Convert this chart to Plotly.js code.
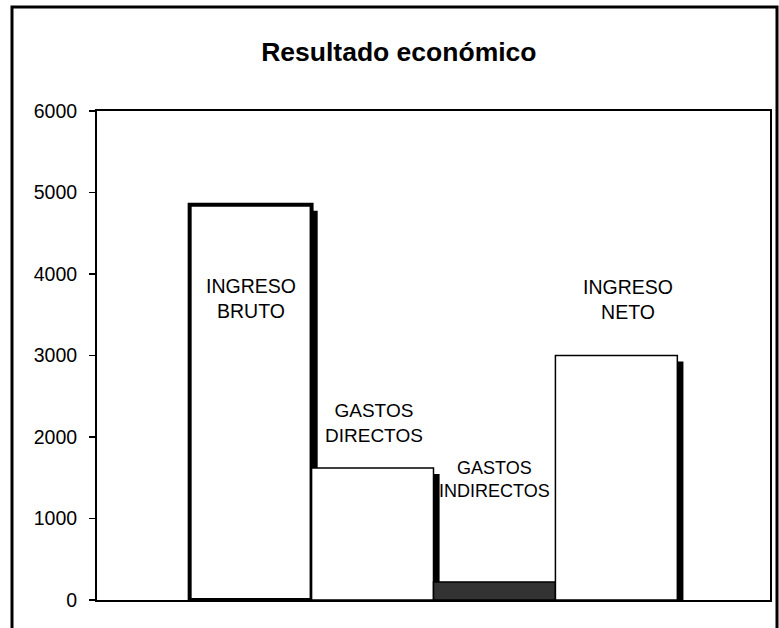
<!DOCTYPE html>
<html>
<head>
<meta charset="utf-8">
<script src="https://cdn.plot.ly/plotly-3.0.1.min.js"></script>
<style>
  html, body { margin: 0; padding: 0; background: #ffffff; }
  #chart { width: 779px; height: 628px; }
</style>
</head>
<body>
<div id="chart"></div>
<script>
// ---- data ----
const categories = ["INGRESO BRUTO", "GASTOS DIRECTOS", "GASTOS INDIRECTOS", "INGRESO NETO"];
const barLabels = ["INGRESO<br>BRUTO", "GASTOS<br>DIRECTOS", "GASTOS<br>INDIRECTOS", "INGRESO<br>NETO"];
const values = [4850, 1620, 220, 3000];
const positions = [0, 1, 2, 3];
const yTicks = [0, 1000, 2000, 3000, 4000, 5000, 6000];

// ---- styling ----
const FONT = "Arial, 'Liberation Sans', sans-serif";
const fillColors = ["#ffffff", "#ffffff", "#333333", "#ffffff"];
const lineWidths = [4, 1.5, 1.5, 1.5];
const shadowDx = 0.05;     // shadow offset in category units (~6px)
const shadowDy = 74;       // shadow drop in axis units (~6px)
const labelY = [3700, 2170, 1480, 3690];
const labelShift = [0, 1, 0, 12];
const labelSize = [19.5, 19, 18, 19.5];

const shadow = {
  type: "bar",
  x: positions,
  y: values,
  base: values.map(() => -shadowDy),
  width: 1,
  offset: -0.5 + shadowDx,
  marker: { color: "#000000", line: { width: 0 } },
  hoverinfo: "skip",
  showlegend: false
};

const bars = {
  type: "bar",
  x: positions,
  y: values,
  width: 1,
  offset: -0.5,
  name: "Resultado",
  text: categories,
  textposition: "none",
  marker: { color: fillColors, line: { color: "#000000", width: lineWidths } },
  hoverinfo: "text+y",
  showlegend: false
};

const annotations = positions.map((p, i) => ({
  x: p, y: labelY[i], xref: "x", yref: "y", xshift: labelShift[i],
  text: barLabels[i], showarrow: false,
  font: { family: FONT, size: labelSize[i], color: "#000000" },
  align: "center", xanchor: "center", yanchor: "middle"
}));

const layout = {
  width: 779, height: 628,
  margin: { l: 97, r: 9, t: 111, b: 28, pad: 0 },
  paper_bgcolor: "#ffffff",
  plot_bgcolor: "#ffffff",
  barmode: "overlay",
  font: { family: FONT, color: "#000000" },
  title: {
    text: "<b>Resultado económico</b>",
    font: { family: FONT, size: 26.5, color: "#000000" },
    x: 0.512, xref: "container", xanchor: "center",
    y: 1 - 52 / 628, yref: "container", yanchor: "middle"
  },
  xaxis: {
    range: [-1.26, 4.26],
    showticklabels: false, ticks: "",
    showgrid: false, zeroline: false,
    showline: true, mirror: true, linecolor: "#000000", linewidth: 2,
    fixedrange: true
  },
  yaxis: {
    range: [0, 6000],
    tickvals: yTicks,
    ticktext: yTicks.map(String),
    ticks: "outside", ticklen: 6, tickwidth: 1.5, tickcolor: "#000000",
    ticklabelstandoff: 8,
    tickfont: { family: FONT, size: 19.5, color: "#000000" },
    showgrid: false, zeroline: false,
    showline: true, mirror: true, linecolor: "#000000", linewidth: 2,
    fixedrange: true
  },
  annotations: annotations,
  shapes: [{
    type: "rect", xref: "paper", yref: "paper",
    x0: (12 - 97) / 673, x1: (777 - 97) / 673,
    y0: (600 - 660) / 489, y1: (600 - 7) / 489,
    line: { color: "#000000", width: 3 },
    fillcolor: "rgba(0,0,0,0)",
    layer: "above"
  }]
};

Plotly.newPlot("chart", [shadow, bars], layout, { displayModeBar: false, staticPlot: true });
</script>
</body>
</html>
